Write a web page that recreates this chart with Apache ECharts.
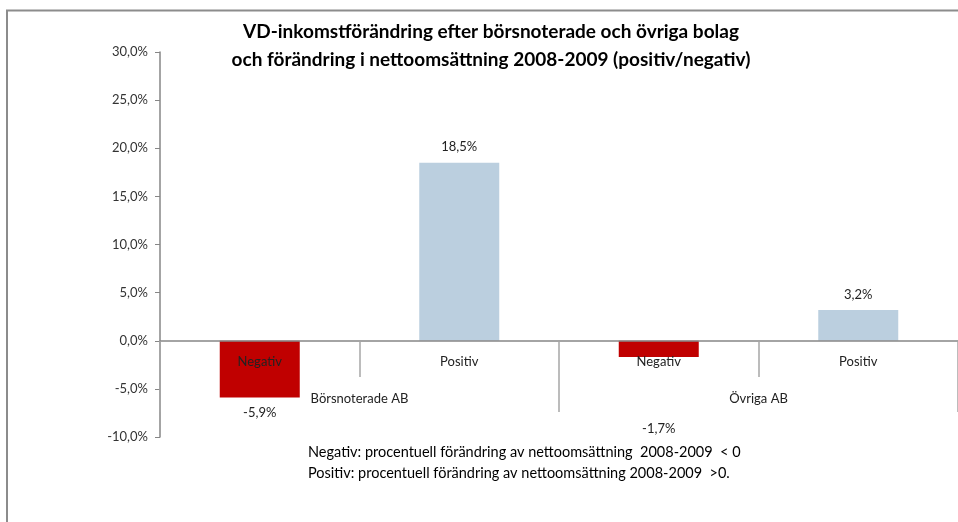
<!DOCTYPE html>
<html>
<head>
<meta charset="utf-8">
<script src="https://cdn.jsdelivr.net/npm/echarts@6/dist/echarts.min.js"></script>
<style>
    html, body { margin: 0; padding: 0; background: #fff; }
    #main { width: 958px; height: 522px; }
</style>
</head>
<body>
<div id="main"></div>
<script>
// kategorier (undre nivån) och grupper (övre nivån)
let categories = ['Negativ', 'Positiv', 'Negativ', 'Positiv'];
let groups = ['Börsnoterade AB', 'Övriga AB'];
// VD-inkomstförändring i procent
let values = [-5.9, 18.5, -1.7, 3.2];
// y-axelns skala
let yMin = -10;
let yMax = 30;
let yStep = 5;
// förklaringstext under diagrammet
let notes = [
    'Negativ: procentuell förändring av nettoomsättning  2008-2009  < 0',
    'Positiv: procentuell förändring av nettoomsättning 2008-2009  >0.'
];

let font = 'Lato, "Open Sans", sans-serif';
let barColors = { Negativ: '#C00000', Positiv: '#BBCFDF' };
// avstånd till datalabel (Excel lägger -1,7% under gruppnamnet)
let labelDistance = [9, 9, 65, 9];

function pct(v) {
    return v.toFixed(1).replace('.', ',') + '%';
}

// plotytan: hela skalan, och en övre del som slutar vid nollan (för kategoriaxlarna)
let plot = { left: 160, top: 52, width: 800, height: 385 };
let upper = { left: 160, top: 52, width: 800, height: 289 };

let myChart = echarts.init(document.getElementById('main'));
myChart.setOption({
    animation: false,
    textStyle: { fontFamily: font },
    title: {
        text: 'VD-inkomstförändring efter börsnoterade och övriga bolag\noch förändring i nettoomsättning 2008-2009 (positiv/negativ)',
        left: 486,
        top: 13,
        textAlign: 'center',
        textStyle: {
            fontFamily: font,
            fontSize: 19,
            fontWeight: 'bold',
            color: '#000',
            lineHeight: 28
        }
    },
    graphic: [
        {
            type: 'rect',
            shape: { x: 7, y: 10.5, width: 1000, height: 600 },
            style: { fill: 'none', stroke: '#8c8c8c', lineWidth: 2 },
            silent: true
        },
        {
            type: 'text',
            left: 308,
            top: 442,
            style: {
                text: notes.join('\n'),
                font: '14.5px ' + font,
                fill: '#000',
                lineHeight: 21
            }
        }
    ],
    grid: [plot, upper, upper],
    xAxis: [
        {
            type: 'category',
            gridIndex: 0,
            data: categories,
            show: false
        },
        {
            type: 'category',
            gridIndex: 1,
            data: categories,
            z: 10,
            axisLine: { onZero: false, lineStyle: { color: '#868686', width: 1.5 } },
            axisTick: { show: true, length: 36, lineStyle: { color: '#a6a6a6', width: 1.5 } },
            axisLabel: { margin: 14, fontSize: 13, color: '#222', fontFamily: font }
        },
        {
            type: 'category',
            gridIndex: 2,
            data: groups,
            z: 10,
            axisLine: { show: false, onZero: false },
            axisTick: { show: true, length: 71, lineStyle: { color: '#a6a6a6', width: 1.5 } },
            axisLabel: { margin: 51, fontSize: 13, color: '#222', fontFamily: font }
        }
    ],
    yAxis: [
        {
            type: 'value',
            gridIndex: 0,
            min: yMin,
            max: yMax,
            interval: yStep,
            splitLine: { show: false },
            axisLine: { show: true, lineStyle: { color: '#868686', width: 1.5 } },
            axisTick: { show: true, length: 5, lineStyle: { color: '#868686' } },
            axisLabel: { margin: 12, fontSize: 13, color: '#333', fontFamily: font, formatter: pct }
        },
        { type: 'value', gridIndex: 1, min: 0, max: yMax, show: false },
        { type: 'value', gridIndex: 2, min: 0, max: yMax, show: false }
    ],
    series: [
        {
            type: 'bar',
            xAxisIndex: 0,
            yAxisIndex: 0,
            barWidth: 80,
            data: values.map((v, i) => ({
                value: v,
                itemStyle: { color: barColors[categories[i]] },
                label: {
                    show: true,
                    position: v < 0 ? 'bottom' : 'top',
                    distance: labelDistance[i]
                }
            })),
            label: {
                fontSize: 13,
                color: '#222',
                fontFamily: font,
                formatter: p => pct(p.value)
            }
        }
    ]
});
</script>
</body>
</html>
